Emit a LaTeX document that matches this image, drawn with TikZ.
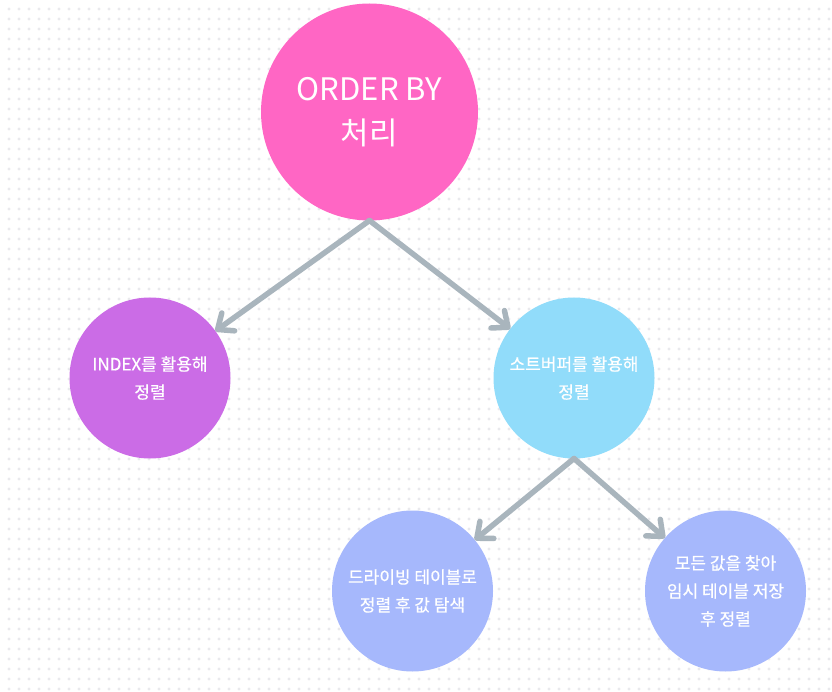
\documentclass[tikz,border=0pt]{standalone}
\usepackage{fontspec}
\setmainfont{Noto Sans CJK KR}
\newfontfamily\medfont{Noto Sans CJK KR}[FakeBold=0.6]
\usetikzlibrary{arrows.meta}
\definecolor{pinkc}{HTML}{FF66C4}
\definecolor{purplec}{HTML}{CB6CE6}
\definecolor{bluec}{HTML}{91DCFA}
\definecolor{peric}{HTML}{A6B8FC}
\definecolor{arrowc}{HTML}{A9B5BD}
\definecolor{dotc}{HTML}{E9E9ED}
\tikzset{
  bubble/.style={circle, inner sep=0pt, outer sep=0pt, text=white, align=center},
  big/.style={bubble, minimum size=217pt, font=\fontsize{31}{44}\selectfont},
  small/.style={bubble, minimum size=161pt, font=\medfont\fontsize{17}{28}\selectfont},
  link/.style={draw=arrowc, line width=5.5pt, line cap=round,
    -{Straight Barb[length=13pt, width=22pt, line width=5.5pt, round]}}
}
\begin{document}
\begin{tikzpicture}[x=1pt, y=-1pt]
\useasboundingbox (0,0) rectangle (832,692);
\fill[white] (0,0) rectangle (832,692);
\foreach \y in {9,19,...,689} {
  \fill[dotc] \foreach \x in {9,19,...,829} {(\x,\y) circle (1.6pt)};
}
\node[big, fill=pinkc] (top) at (369.5,112) {ORDER BY\\처리};
\node[small, fill=purplec] (idx) at (150,378) {INDEX를 활용해\\정렬};
\node[small, fill=bluec] (sort) at (574,378) {소트버퍼를 활용해\\정렬};
\node[small, fill=peric] (drive) at (412.5,591) {드라이빙 테이블로\\정렬 후 값 탐색};
\node[small, fill=peric] (temp) at (725.5,591) {모든 값을 찾아\\임시 테이블 저장\\후 정렬};
\draw[link] (top.south) -- (idx);
\draw[link] (top.south) -- (sort);
\draw[link] (sort.south) -- (drive);
\draw[link] (sort.south) -- (temp);
\end{tikzpicture}
\end{document}
